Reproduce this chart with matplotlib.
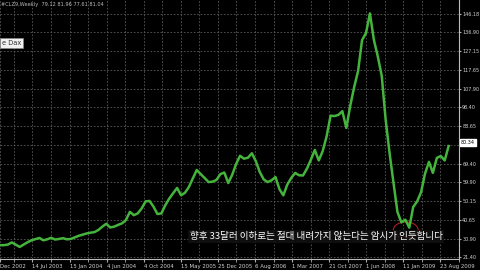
import numpy as np
import matplotlib
matplotlib.use('Agg')
import matplotlib.pyplot as plt
from matplotlib.patches import Ellipse

plt.rcParams['font.family'] = ['DejaVu Sans']

# weekly crude oil (#CLZ9), sampled along the chart
prices = [27.5, 27.5, 27.8, 28.9, 27.8, 26.6, 27.8, 29.0, 30.0, 30.6,
          31.2, 30.0, 30.5, 31.3, 30.4, 30.7, 31.1, 30.5, 30.7, 31.5,
          32.3, 32.9, 33.5, 33.9, 34.2, 35.3, 37.0, 38.5, 36.6, 37.0,
          37.9, 38.7, 40.4, 44.6, 42.9, 43.8, 46.4, 50.0, 50.2, 47.3,
          43.5, 43.8, 48.0, 51.4, 54.2, 56.9, 53.1, 54.4, 57.4, 61.8,
          66.1, 64.0, 62.0, 59.9, 60.1, 61.0, 64.0, 64.8, 59.4, 63.6,
          69.2, 73.4, 71.9, 72.4, 74.7, 70.7, 65.1, 61.3, 59.9, 60.8,
          62.5, 56.3, 53.1, 58.6, 62.0, 64.6, 63.4, 63.3, 66.8, 71.4,
          76.4, 71.0, 75.8, 83.4, 94.0, 93.8, 94.4, 96.3, 87.7, 99.1,
          108.7, 117.0, 132.8, 136.4, 146.5, 133.0, 124.4, 114.5, 91.9, 74.7,
          59.4, 44.5, 39.2, 40.6, 36.5, 47.1, 50.0, 54.7, 64.2, 70.3,
          64.6, 72.3, 73.3, 71.0, 78.4]

date_labels = ['Dec 2002', '14 Jul 2003', '15 Jan 2004', '4 Jun 2004', '4 Oct 2004',
               '15 May 2005', '25 Dec 2005', '6 Aug 2006', '1 Mar 2007', '21 Oct 2007',
               '1 Jun 2008', '11 Jan 2009', '23 Aug 2009']
price_ticks = [146.18, 136.90, 127.15, 117.65, 107.90, 98.40, 88.65, 78.90,
               69.40, 59.90, 50.15, 40.65, 30.90, 21.40]
last_price = 80.34
caption = '향후 33달러 이하로는 절대 내려가지 않는다는 암시가 인듯합니다'

fig = plt.figure(figsize=(4.8, 2.7), dpi=100, facecolor='black')
ax = fig.add_axes([0, 11 / 270, 459 / 480, 259 / 270], facecolor='black')

x = np.arange(len(prices))
ax.plot(x, prices, color='#45b43c', lw=1.8)

ax.set_xlim(0, 115)
ax.set_ylim(20.4, 153.4)

step = 9.425
xt = [0] + [-1.175 + step * k for k in range(1, 13)]
ax.set_xticks(xt)
ax.set_xticklabels(date_labels, fontsize=3.9, color='#d0d0d0', ha='left')
ax.set_xticks([-1.175 + step * k + step / 2 for k in range(0, 13)], minor=True)
ax.tick_params(axis='x', which='both', length=2, color='#aaaaaa', pad=1.5)

ax.yaxis.tick_right()
ax.set_yticks(price_ticks)
ylabels = [f'{v:.2f}' for v in price_ticks]
ylabels[price_ticks.index(78.90)] = ''  # hidden behind the price box
ax.set_yticklabels(ylabels, fontsize=3.5, color='#d0d0d0')
ax.tick_params(axis='y', length=1.5, color='#aaaaaa', pad=0.8)

ax.grid(True, which='both', color='#5a5a5a', ls=(0, (2, 2)), lw=0.6)

for s in ['left', 'top']:
    ax.spines[s].set_visible(False)
for s in ['right', 'bottom']:
    ax.spines[s].set_color('#bbbbbb')
    ax.spines[s].set_linewidth(0.8)

# current price box
ax.text(1.004, (last_price - 20.4) / 133.0, f'{last_price:.2f}', transform=ax.transAxes,
        fontsize=3.5, color='black', va='center', ha='left',
        bbox=dict(boxstyle='square,pad=0.15', fc='white', ec='white'))

# header text
fig.text(0.002, 0.982, '#CLZ9,Weekly  79.12 81.96 77.61 81.04', fontsize=3.6,
         color='#bbbbbb', va='center', ha='left')
fig.text(0.004, 0.84, 'e Dax', fontsize=4.8, color='#333333', va='center', ha='left',
         bbox=dict(boxstyle='square,pad=0.3', fc='#f0f0f0', ec='#888888', lw=0.5))

# red circle around the low
ax.add_patch(Ellipse((103.1, 35.3), 6.3, 8.2, fill=False, ec='#b02020', lw=0.8))

# korean caption
ax.text(80.3, 31.9, caption, fontsize=6.9, color='white', ha='center', va='center',
        family=['Noto Sans CJK KR', 'DejaVu Sans'],
        bbox=dict(boxstyle='square,pad=0.2', fc='#111111', ec='none', alpha=0.85))

fig.savefig('out.png', dpi=100, facecolor='black')
